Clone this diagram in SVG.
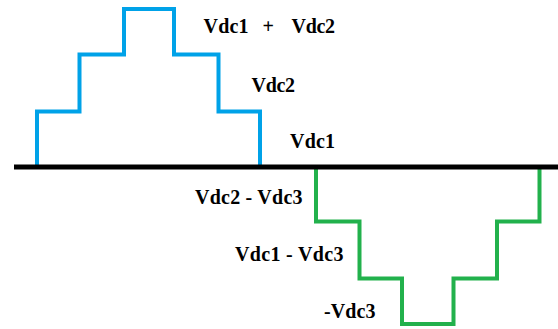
<svg xmlns="http://www.w3.org/2000/svg" width="558" height="329" viewBox="0 0 558 329">
  <style>
    .axis { stroke: #000000; stroke-width: 5; fill: none; }
    .wave { fill: none; stroke-width: 4; stroke-linejoin: miter; }
    .pos { stroke: #00a2e8; }
    .neg { stroke: #22b14c; }
    .lbl { font-family: "Liberation Serif", "Times New Roman", serif; font-weight: bold; font-size: 20px; fill: #000000; }
  </style>
  <rect width="558" height="329" fill="#ffffff"/>

  <g id="connectors">
    <!-- positive staircase -->
    <path class="wave pos" d="M37,167 V111.5 H79.5 V54.5 H124 V9 H174 V54.5 H218.5 V111.5 H260 V167"/>
    <!-- negative staircase -->
    <path class="wave neg" d="M316,167 V221.5 H359.5 V278.5 H402 V324 H453.5 V278.5 H497 V221.5 H539.5 V167"/>
    <!-- zero axis -->
    <line class="axis" x1="14" y1="167" x2="558" y2="167"/>
  </g>

  <g id="label-vdc1-plus-vdc2">
    <text class="lbl"><tspan x="203.5" y="33" textLength="45" lengthAdjust="spacing">Vdc1</tspan><tspan x="262.5" y="33">+</tspan><tspan x="291.5" y="33" textLength="43.5" lengthAdjust="spacing">Vdc2</tspan></text>
  </g>
  <g id="label-vdc2">
    <text class="lbl" x="251.5" y="91.7" textLength="43.5" lengthAdjust="spacing">Vdc2</text>
  </g>
  <g id="label-vdc1">
    <text class="lbl" x="290" y="148.3" textLength="45" lengthAdjust="spacing">Vdc1</text>
  </g>
  <g id="label-vdc2-minus-vdc3">
    <text class="lbl" x="195" y="204" textLength="107.5" lengthAdjust="spacing">Vdc2 - Vdc3</text>
  </g>
  <g id="label-vdc1-minus-vdc3">
    <text class="lbl" x="235" y="261" textLength="108.5" lengthAdjust="spacing">Vdc1 - Vdc3</text>
  </g>
  <g id="label-neg-vdc3">
    <text class="lbl" x="324" y="318" textLength="51.5" lengthAdjust="spacing">-Vdc3</text>
  </g>
</svg>
